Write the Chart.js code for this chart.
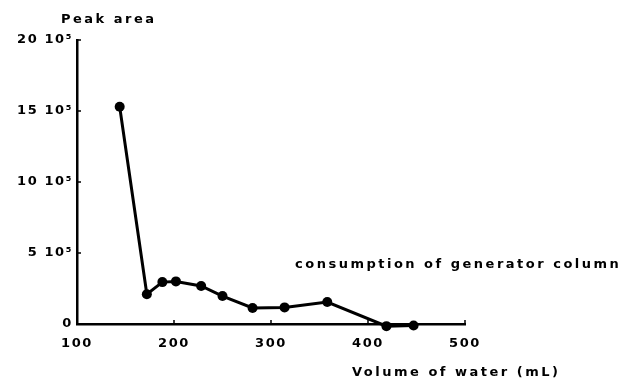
<!DOCTYPE html>
<html>
<head>
<meta charset="utf-8">
<script src="https://cdn.jsdelivr.net/npm/chart.js@4"></script>
<style>
  body { margin: 0; background: #fff; }
  #wrap { width: 628px; height: 381px; position: relative; }
</style>
</head>
<body>
<div id="wrap"><canvas id="chart"></canvas></div>
<script>
// volume of water (mL) and peak area
var volumes = [144, 172, 188, 202, 228, 250, 281, 314, 358, 419, 447];
var peakAreas = [1530000, 210000, 295000, 300000, 268000, 197000, 113000, 117000, 155000, -15000, -10000];
var xTicks = [100, 200, 300, 400, 500];
var yTicks = [0, 500000, 1000000, 1500000, 2000000];
var yTickLabels = ['0', '5 10\u2075', '10 10\u2075', '15 10\u2075', '20 10\u2075'];

var FONT = '"DejaVu Sans", Verdana, sans-serif';
var SPACING = '1.6px';

// canvas letter spacing so the old typewriter-ish look comes through
const spacingPlugin = {
  id: 'spacing',
  beforeUpdate(chart) { chart.ctx.letterSpacing = SPACING },
  beforeDraw(chart) { chart.ctx.letterSpacing = SPACING },
}

// small tick marks pointing into the plot, like the original figure
const innerTicks = {
  id: 'innerTicks',
  afterDraw(chart) {
    const ctx = chart.ctx
    const x = chart.scales.x, y = chart.scales.y
    const area = chart.chartArea
    ctx.save()
    ctx.strokeStyle = '#000'
    ctx.lineWidth = 1.5
    ctx.beginPath()
    xTicks.slice(1).forEach((v) => {
      const px = x.getPixelForValue(v)
      ctx.moveTo(px, area.bottom)
      ctx.lineTo(px, area.bottom - 4)
    })
    yTicks.slice(1).forEach((v) => {
      const py = y.getPixelForValue(v)
      ctx.moveTo(area.left, py)
      ctx.lineTo(area.left + 4, py)
    })
    ctx.stroke()

    ctx.fillStyle = '#000'
    ctx.font = 'bold 13px ' + FONT
    ctx.letterSpacing = '2.5px'
    ctx.textBaseline = 'middle'
    ctx.textAlign = 'left'
    ctx.fillText('Peak area', 61, 20)
    ctx.fillText('consumption of generator column', 295, 265)
    ctx.fillText('Volume of water (mL)', 352, 373)
    ctx.restore()
  }
}

const config = {
  type: 'line',
  data: {
    datasets: [
      {
        label: 'Peak area',
        data: volumes.map((v, i) => ({ x: v, y: peakAreas[i] })),
        borderColor: '#000',
        backgroundColor: '#000',
        borderWidth: 3,
        pointRadius: 5,
        pointBackgroundColor: '#000',
        pointBorderWidth: 0,
        tension: 0,
        clip: false,
      },
    ],
  },
  options: {
    responsive: true,
    maintainAspectRatio: false,
    animation: false,
    events: [],
    layout: { padding: { top: 40, right: 163, bottom: 0, left: 0 } },
    plugins: {
      legend: { display: false },
      tooltip: { enabled: false },
    },
    scales: {
      x: {
        type: 'linear',
        min: 100,
        max: 500,
        afterBuildTicks(scale) { scale.ticks = xTicks.map((v) => ({ value: v })) },
        afterFit(scale) { scale.height = 57 },
        grid: { display: false, drawTicks: false },
        border: { display: true, color: '#000', width: 2.5 },
        ticks: {
          color: '#000',
          padding: 12,
          maxRotation: 0,
          font: { family: FONT, size: 13, weight: 'bold' },
        },
      },
      y: {
        type: 'linear',
        min: 0,
        max: 2000000,
        afterBuildTicks(scale) { scale.ticks = yTicks.map((v) => ({ value: v })) },
        afterFit(scale) { scale.width = 77 },
        grid: { display: false, drawTicks: false },
        border: { display: true, color: '#000', width: 2.5 },
        ticks: {
          color: '#000',
          padding: 4,
          font: { family: FONT, size: 13, weight: 'bold' },
          callback: (v) => yTickLabels[yTicks.indexOf(v)],
        },
      },
    },
  },
  plugins: [spacingPlugin, innerTicks],
}

const chartCtx = document.getElementById('chart')
window.myChart = new Chart(chartCtx, config)
</script>
</body>
</html>
